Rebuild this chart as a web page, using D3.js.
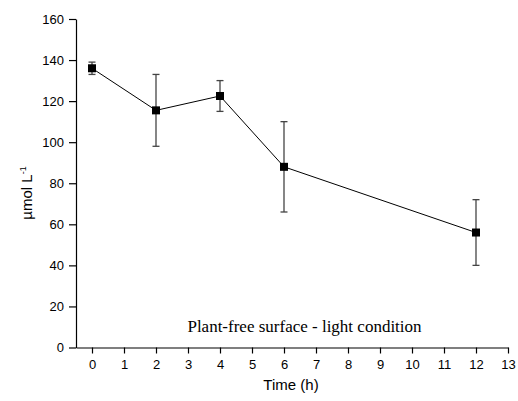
<!DOCTYPE html>
<html>
<head>
<meta charset="utf-8">
<script src="https://cdn.jsdelivr.net/npm/d3@7"></script>
<style>
  body { margin: 0; background: #fff; }
  .sans { font-family: "Liberation Sans", Arial, sans-serif; }
  .serif { font-family: "Liberation Serif", "Times New Roman", serif; }
</style>
</head>
<body>
<div id="chart"></div>
<script>
// data
const times = [0, 2, 4, 6, 12];
const values = [136, 115.5, 122.5, 88, 56];
const errors = [3, 17.5, 7.5, 22, 16];
const xTicks = d3.range(0, 14);
const yTicks = [0, 20, 40, 60, 80, 100, 120, 140, 160];

const W = 518, H = 401;
const margin = {top: 19, right: 10, bottom: 54, left: 76};

const svg = d3.select("#chart")
    .append("svg")
    .attr("width", W)
    .attr("height", H);

const x = d3.scaleLinear()
    .domain([-0.5, 13])
    .range([margin.left, 508]);

const y = d3.scaleLinear()
    .domain([0, 160])
    .range([347.5, margin.top]);

// x axis
const gx = svg.append("g")
    .attr("transform", `translate(0,${y(0)})`)
    .call(d3.axisBottom(x).tickValues(xTicks).tickSize(6).tickSizeOuter(0));
gx.selectAll("text")
    .attr("class", "sans")
    .attr("font-size", 13)
    .attr("y", 12)
    .attr("fill", "#000");

// y axis
const gy = svg.append("g")
    .attr("transform", `translate(${x(-0.5)},0)`)
    .call(d3.axisLeft(y).tickValues(yTicks).tickSize(7).tickSizeOuter(0));
gy.selectAll("text")
    .attr("class", "sans")
    .attr("font-size", 13)
    .attr("x", -12)
    .attr("fill", "#000");

svg.selectAll(".domain, .tick line").attr("stroke", "#000").attr("stroke-width", 1.2);

// axis titles
svg.append("text")
    .attr("class", "sans")
    .attr("x", 291)
    .attr("y", 390)
    .attr("text-anchor", "middle")
    .attr("font-size", 15)
    .text("Time (h)");

const yl = svg.append("text")
    .attr("class", "sans")
    .attr("transform", `translate(32,193) rotate(-90)`)
    .attr("text-anchor", "middle")
    .attr("font-size", 15);
yl.append("tspan").text("\u00b5mol L");
yl.append("tspan").attr("font-size", 9).attr("dy", -6).text("-1");

// annotation
svg.append("text")
    .attr("class", "serif")
    .attr("x", 304.5)
    .attr("y", 332)
    .attr("text-anchor", "middle")
    .attr("font-size", 17)
    .text("Plant-free surface - light condition");

const pts = times.map((t, i) => ({t: t, v: values[i], e: errors[i]}));

// connecting line
svg.append("path")
    .datum(pts)
    .attr("fill", "none")
    .attr("stroke", "#000")
    .attr("stroke-width", 1)
    .attr("d", d3.line().x(d => x(d.t)).y(d => y(d.v)));

// error bars
const eb = svg.selectAll(".err")
    .data(pts)
    .join("g")
    .attr("stroke", "#444")
    .attr("stroke-width", 1.3);
eb.append("line")
    .attr("x1", d => x(d.t)).attr("x2", d => x(d.t))
    .attr("y1", d => y(d.v + d.e)).attr("y2", d => y(d.v - d.e));
eb.append("line")
    .attr("x1", d => x(d.t) - 3.5).attr("x2", d => x(d.t) + 3.5)
    .attr("y1", d => y(d.v + d.e)).attr("y2", d => y(d.v + d.e));
eb.append("line")
    .attr("x1", d => x(d.t) - 3.5).attr("x2", d => x(d.t) + 3.5)
    .attr("y1", d => y(d.v - d.e)).attr("y2", d => y(d.v - d.e));

// square markers
svg.selectAll(".pt")
    .data(pts)
    .join("rect")
    .attr("x", d => x(d.t) - 4)
    .attr("y", d => y(d.v) - 4)
    .attr("width", 8)
    .attr("height", 8)
    .attr("fill", "#000");
</script>
</body>
</html>
